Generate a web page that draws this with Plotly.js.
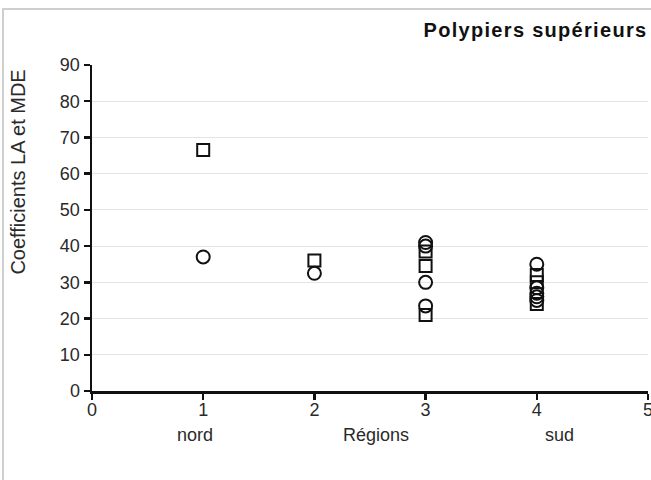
<!DOCTYPE html>
<html><head><meta charset="utf-8">
<script src="https://cdn.plot.ly/plotly-3.0.1.min.js"></script>
<style>
html,body{margin:0;padding:0;background:#fff;}
#wrap{position:relative;width:651px;height:480px;}
#frame{position:absolute;left:2px;top:8px;width:660px;height:490px;border:2px solid #cfcfcf;box-sizing:border-box;pointer-events:none;}
#chart{position:absolute;left:0;top:0;width:651px;height:480px;}
#chart .gtitle{letter-spacing:1.3px;}
</style>
</head><body>
<div id="wrap"><div id="chart"></div><div id="frame"></div></div>
<script>
// Data
const squareX = [1, 2, 3, 3, 3, 4, 4, 4];
const squareY = [66.5, 36, 38.5, 34.5, 21, 32, 30, 24];
const circleX = [1, 2, 3, 3, 3, 3, 4, 4, 4, 4, 4];
const circleY = [37, 32.5, 41, 40, 30, 23.5, 35, 28.5, 27, 26, 25];
const xTicks = [0, 1, 2, 3, 4, 5];
const yTicks = [0, 10, 20, 30, 40, 50, 60, 70, 80, 90];
const regionLabels = [{x: 0.93, text: "nord"}, {x: 2.55, text: "Régions"}, {x: 4.2, text: "sud"}];

const fam = "Liberation Sans, Arial, sans-serif";
const tickFont = {family: fam, size: 18, color: "#2a2a2a"};
const labelFont = {family: fam, size: 18, color: "#2a2a2a"};

const traces = [
  {x: squareX, y: squareY, type: "scatter", mode: "markers", name: "LA", cliponaxis: false,
   marker: {symbol: "square-open", size: 12, color: "#111", line: {width: 2, color: "#111"}}},
  {x: circleX, y: circleY, type: "scatter", mode: "markers", name: "MDE", cliponaxis: false,
   marker: {symbol: "circle-open", size: 13, color: "#111", line: {width: 2, color: "#111"}}}
];

const annotations = regionLabels.map(r => ({
  x: r.x, y: 0, xref: "x", yref: "paper", yshift: -44, showarrow: false,
  text: r.text, font: labelFont, xanchor: "center", yanchor: "middle"
}));
annotations.push({
  x: 0, y: 0.67, xref: "paper", yref: "paper", xshift: -74, showarrow: false,
  text: "Coefficients LA et MDE", textangle: -90, font: {family: fam, size: 20, color: "#2a2a2a"},
  xanchor: "center", yanchor: "middle"
});

const layout = {
  width: 651, height: 480,
  margin: {l: 92, r: 3, t: 65, b: 89},
  paper_bgcolor: "#fff", plot_bgcolor: "#fff",
  showlegend: false,
  font: tickFont,
  title: {text: "<b>Polypiers supérieurs</b>", x: 0.999, xanchor: "right", xref: "paper", y: 0.938, yanchor: "middle",
          font: {family: fam, size: 20, color: "#111"}},
  xaxis: {range: [0, 5], tickvals: xTicks, ticktext: xTicks.map(String), showgrid: false, zeroline: false,
          showline: true, linecolor: "#111", linewidth: 2.5, ticks: "outside", ticklen: 6, tickwidth: 2.5,
          tickcolor: "#111", tickfont: tickFont, ticklabeloverflow: "allow", ticklabelstandoff: -5, fixedrange: true},
  yaxis: {range: [0, 90], tickvals: yTicks, ticktext: yTicks.map(String), showgrid: true, gridcolor: "#e4e4e4",
          gridwidth: 1, zeroline: false, showline: true, linecolor: "#111", linewidth: 2.5,
          ticks: "outside", ticklen: 6, tickwidth: 2.5, tickcolor: "#111", tickfont: tickFont, fixedrange: true},
  annotations: annotations
};

Plotly.newPlot("chart", traces, layout, {displayModeBar: false, staticPlot: true});
</script>
</body></html>
